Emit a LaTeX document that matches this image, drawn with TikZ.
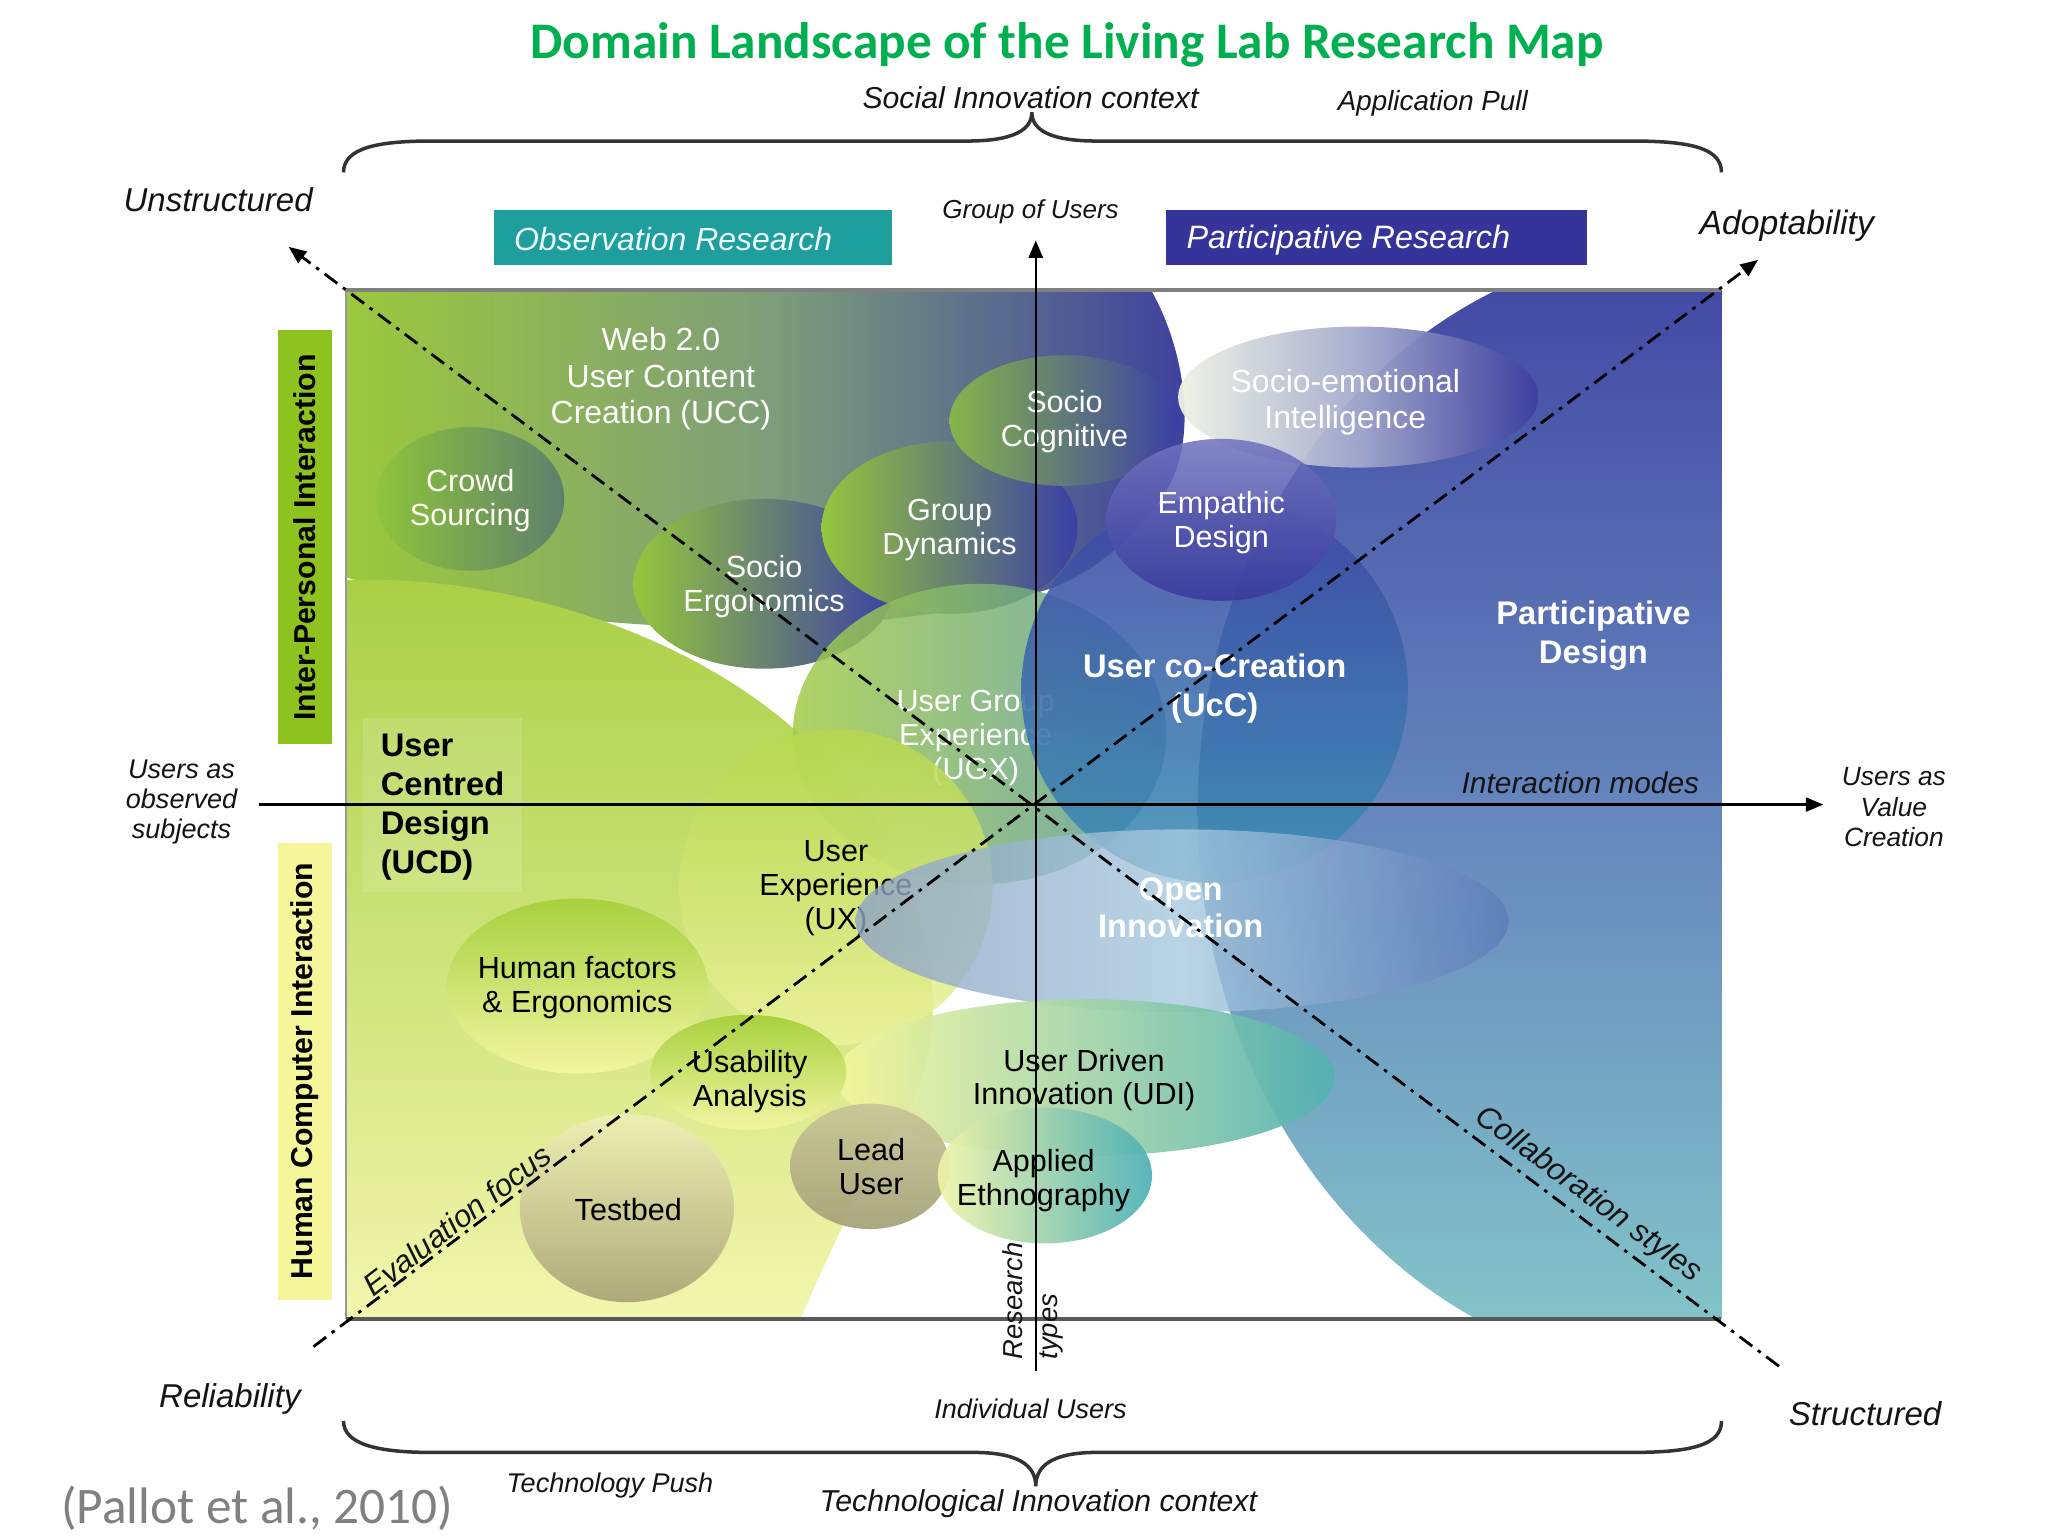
\documentclass[tikz,border=0pt]{standalone}
\usepackage{fontspec}
\setmainfont{Liberation Sans}
\newfontfamily\calib{Carlito}
\usetikzlibrary{arrows.meta}
\definecolor{lime}{HTML}{9CC83C}
\definecolor{dblue}{HTML}{3C3E9F}
\definecolor{uccmid}{HTML}{7E9D7A}
\definecolor{ptop}{HTML}{4045A3}
\definecolor{pmid}{HTML}{6586BD}
\definecolor{pbot}{HTML}{86CACA}
\definecolor{ucdtop}{HTML}{A9CF45}
\definecolor{ucdbot}{HTML}{F3F6AE}
\definecolor{titlegreen}{HTML}{00B050}
\definecolor{obsteal}{HTML}{1E9E9C}
\definecolor{partblue}{HTML}{35349A}
\definecolor{ipgreen}{HTML}{8DC21F}
\definecolor{hcyellow}{HTML}{F5F59A}
\definecolor{selight}{HTML}{EEF2E4}
\definecolor{semid}{HTML}{A4AACD}
\definecolor{crL}{HTML}{8EC43A}
\definecolor{crR}{HTML}{5D806E}
\definecolor{gL}{HTML}{95C63C}
\definecolor{gR}{HTML}{3B3FA6}
\definecolor{scL}{HTML}{86B44A}
\definecolor{ugxL}{HTML}{A3CC48}
\definecolor{ugxR}{HTML}{5A9AA0}
\definecolor{uxT}{HTML}{B6D74E}
\definecolor{uxB}{HTML}{EDF39C}
\definecolor{uccT}{HTML}{3E45A5}
\definecolor{uccB}{HTML}{3A92B4}
\definecolor{empT}{HTML}{7174C0}
\definecolor{empB}{HTML}{383A9C}
\definecolor{oiL}{HTML}{8EA2C6}
\definecolor{oiM}{HTML}{A6C9DE}
\definecolor{oiR}{HTML}{5F7BBA}
\definecolor{hfT}{HTML}{A8D13E}
\definecolor{hfB}{HTML}{F2F5A2}
\definecolor{udiL}{HTML}{F5F79E}
\definecolor{udiR}{HTML}{52B1B2}
\definecolor{tbT}{HTML}{EDEFB2}
\definecolor{tbB}{HTML}{AEAA7A}
\definecolor{luT}{HTML}{C8C698}
\definecolor{luB}{HTML}{A6A379}
\definecolor{aeL}{HTML}{F0F4A8}
\definecolor{aeR}{HTML}{4AAFB5}
\begin{document}
\begin{tikzpicture}[x=0.01306cm,y=-0.01306cm,
  bub/.style={font=\fontsize{8.7}{9.6}\selectfont, align=center, inner sep=0pt},
  wtxt/.style={bub, text=white},
  btxt/.style={bub, text=black},
  bigw/.style={font=\bfseries\fontsize{9.3}{11.1}\selectfont, align=center, text=white, inner sep=0pt},
  lab/.style={font=\itshape\fontsize{8.6}{9.6}\selectfont, inner sep=0pt, text=black!92},
  axisline/.style={line width=0.7pt, black},
  dashdot/.style={line width=0.8pt, dash pattern=on 4.5pt off 2pt on 1pt off 2pt},
  tiphead/.style={-{Triangle[length=5pt,width=4pt]}},
  bracel/.style={line width=1pt, black!80}
]
\useasboundingbox (0,0) rectangle (1568,1176);

\begin{scope}
\clip (265,222) rectangle (1318,1010);
% Participative Design region
\path[top color=ptop, bottom color=pbot, middle color=pmid] (1292,620) ellipse [x radius=375, y radius=432];
% Web 2.0 UCC region
\path[left color=lime, right color=dblue, middle color=uccmid] (265,220) -- (880,220) .. controls (905,262) and (918,330) .. (895,372) .. controls (872,412) and (832,442) .. (800,452) .. controls (720,475) and (600,485) .. (490,478) .. controls (400,472) and (320,458) .. (265,442) -- cycle;
% UCD region
\path[top color=ucdtop, bottom color=ucdbot] (265,444) .. controls (380,440) and (520,480) .. (610,560) .. controls (710,640) and (745,790) .. (684,866) .. controls (655,915) and (630,970) .. (612,1012) -- (265,1012) -- cycle;
\fill[white, fill opacity=0.13] (278,550) rectangle (400,683);
% Socio-emotional
\path[left color=selight, right color=dblue, middle color=semid, fill opacity=0.95] (1040,304) ellipse [x radius=138, y radius=54];
% Crowd sourcing
\path[left color=crL, right color=crR] (360,382) ellipse [x radius=72, y radius=55];
% Socio ergonomics
\path[left color=gL, right color=gR] (585,447) ellipse [x radius=100, y radius=65];
% Group dynamics
\path[left color=gL, right color=gR] (727,404) ellipse [x radius=98, y radius=66];
% Socio cognitive
\path[left color=scL, right color=gR] (815,322) ellipse [x radius=88, y radius=50];
% UGX
\path[left color=ugxL, right color=ugxR, fill opacity=0.85] (750,562) ellipse [x radius=143, y radius=115];
\node[wtxt] (ugx) at (747,565) {User Group\\Experience\\(UGX)};
% UX
\path[top color=uxT, bottom color=uxB, fill opacity=0.85] (640,679) ellipse [x radius=120, y radius=121];
\node[btxt] (ux) at (640,680) {User\\Experience\\(UX)};
% UcC
\path[top color=uccT, bottom color=uccB, fill opacity=0.88] (930,528) circle [radius=148];
% Empathic
\path[top color=empT, bottom color=empB, fill opacity=0.88] (935,398) ellipse [x radius=88, y radius=62];
% Open innovation
\path[left color=oiL, right color=oiR, middle color=oiM, fill opacity=0.8] (905,705) ellipse [x radius=250, y radius=70];
% Human factors
\path[top color=hfT, bottom color=hfB] (442,755) ellipse [x radius=100, y radius=67];
% UDI
\path[left color=udiL, right color=udiR, fill opacity=0.92] (831,825) ellipse [x radius=191, y radius=60];
% Usability
\path[top color=hfT, bottom color=hfB] (573,821) ellipse [x radius=75, y radius=44];
% Testbed
\path[top color=tbT, bottom color=tbB] (480,925) ellipse [x radius=82, y radius=72];
% Lead user
\path[top color=luT, bottom color=luB, fill opacity=0.95] (666,893) ellipse [x radius=61, y radius=48];
% Applied ethnography
\path[left color=aeL, right color=aeR, fill opacity=0.92] (800,900) ellipse [x radius=82, y radius=52];
\end{scope}

% frame
\draw[black!40, line width=0.5pt] (265,1010) -- (265,222);
\draw[black!50, line width=1pt] (265,222) -- (1318,222);
\draw[black!65, line width=1.3pt] (265,1010) -- (1318,1010);

% bubble texts
\node[wtxt, font=\fontsize{9.1}{10.4}\selectfont] (ucc) at (506,290) {Web 2.0\\User Content\\Creation (UCC)};
\node[bub, text=white!94!yellow] (crowd) at (360,383) {Crowd\\Sourcing};
\node[wtxt] (socerg) at (585,449) {Socio\\Ergonomics};
\node[wtxt] (grpdyn) at (727,406) {Group\\Dynamics};
\node[wtxt] (soccog) at (815,323) {Socio\\Cognitive};
\node[wtxt, font=\fontsize{9.1}{10.4}\selectfont] (socemo) at (1030,308) {Socio-emotional\\Intelligence};
\node[wtxt] (empath) at (935,400) {Empathic\\Design};
\node[bigw] (partdes) at (1220,487) {Participative\\Design};
\node[bigw] (ucoc) at (930,527) {User co-Creation\\(UcC)};
\node[bigw, font=\bfseries\fontsize{9.3}{10.8}\selectfont] (openinn) at (904,695) {Open\\Innovation};
\node[font=\bfseries\fontsize{9.3}{11.1}\selectfont, align=left, inner sep=0pt, anchor=west] (ucd) at (291,618) {User\\Centred\\Design\\(UCD)};
\node[btxt] (humf) at (442,756) {Human factors\\\& Ergonomics};
\node[btxt] (usab) at (574,828) {Usability\\Analysis};
\node[btxt] (udi) at (830,827) {User Driven\\Innovation (UDI)};
\node[btxt] (lead) at (667,893) {Lead\\User};
\node[btxt] (ethno) at (799,904) {Applied\\Ethnography};
\node[btxt] (testbed) at (481,926) {Testbed};

% axes
\coordinate (vB) at (793,1050);
\coordinate (vT) at (793,184);
\coordinate (hL) at (198,616);
\coordinate (hR) at (1396,616);
\coordinate (eS) at (240,1031);
\coordinate (eE) at (1346,199);
\coordinate (cS) at (1362,1046);
\coordinate (cE) at (221,189);
\draw[axisline, tiphead] (vB) -- (vT);
\draw[axisline, tiphead] (hL) -- (hR);
\draw[dashdot, tiphead] (eS) -- (eE);
\draw[dashdot, tiphead] (cS) -- (cE);

% braces
\coordinate (tbL) at (263,132);
\coordinate (tbM) at (790,86);
\coordinate (tbR) at (1318,132);
\draw[bracel] (tbL) .. controls (263,113) and (290,108) .. (330,108) -- (740,108) .. controls (775,108) and (790,100) .. (tbM) .. controls (790,100) and (805,108) .. (840,108) -- (1250,108) .. controls (1296,108) and (1318,114) .. (tbR);
\coordinate (bbL) at (263,1088);
\coordinate (bbM) at (793,1138);
\coordinate (bbR) at (1318,1088);
\draw[bracel] (bbL) .. controls (263,1106) and (290,1112) .. (330,1112) -- (745,1112) .. controls (780,1112) and (793,1122) .. (bbM) .. controls (793,1122) and (806,1112) .. (840,1112) -- (1250,1112) .. controls (1296,1112) and (1318,1106) .. (bbR);

% boxes and bands
\fill[obsteal] (378,161) rectangle (683,203);
\node[font=\itshape\fontsize{9.1}{10}\selectfont, text=white!92!cyan, anchor=west, inner sep=0pt] (obs) at (393,183) {Observation Research};
\fill[partblue] (893,161) rectangle (1215,203);
\node[font=\itshape\fontsize{9.2}{10}\selectfont, text=white, anchor=west, inner sep=0pt] (part) at (908,184) {Participative Research};
\node[fill=ipgreen, rotate=90, minimum width=4.14cm, minimum height=0.535cm, inner sep=0pt, font=\bfseries\fontsize{8.6}{9}\selectfont] (ipband) at (233.5,411.5) {Inter-Personal Interaction};
\node[fill=hcyellow, rotate=90, minimum width=4.57cm, minimum height=0.535cm, inner sep=0pt, font=\bfseries\fontsize{8.6}{9}\selectfont] (hcband) at (233.5,820) {Human Computer Interaction};

% labels
\node[font=\calib\bfseries\fontsize{14.6}{16}\selectfont, text=titlegreen] (title) at (817,34) {Domain Landscape of the Living Lab Research Map};
\node[lab] (socctx) at (789,75) {Social Innovation context};
\node[lab, font=\itshape\fontsize{7.9}{9}\selectfont] (apppull) at (1097,79) {Application Pull};
\node[lab, font=\itshape\fontsize{9.4}{10}\selectfont] (unstr) at (167,153) {Unstructured};
\node[lab, font=\itshape\fontsize{9.6}{10}\selectfont] (adopt) at (1368,173) {Adoptability};
\node[lab, font=\itshape\fontsize{7.4}{8}\selectfont] (grpusers) at (789,162) {Group of Users};
\node[lab, font=\itshape\fontsize{7.7}{8.6}\selectfont, align=center] (obssub) at (139,614) {Users as\\observed\\subjects};
\node[lab, font=\itshape\fontsize{7.5}{8.6}\selectfont, align=center] (valcre) at (1450,618) {Users as\\Value\\Creation};
\node[lab, font=\itshape\fontsize{8.5}{9}\selectfont] (intmodes) at (1210,599) {Interaction modes};
\node[lab, font=\itshape\fontsize{9.4}{10}\selectfont] (reliab) at (176,1071) {Reliability};
\node[lab, font=\itshape\fontsize{9.4}{10}\selectfont] (struct) at (1428,1082) {Structured};
\node[lab, font=\itshape\fontsize{7.7}{8.6}\selectfont] (indiv) at (789,1079) {Individual Users};
\node[lab, font=\itshape\fontsize{7.7}{8.6}\selectfont] (techpush) at (467,1137) {Technology Push};
\node[lab] (techctx) at (795,1151) {Technological Innovation context};
\node[lab, font=\itshape\fontsize{8.8}{9.6}\selectfont, rotate=37.5] (evalf) at (350,934) {Evaluation focus};
\node[lab, font=\itshape\fontsize{8.9}{9.6}\selectfont, rotate=-36.5] (collab) at (1216,915) {Collaboration styles};
\node[lab, font=\itshape\fontsize{7.8}{10}\selectfont, rotate=90, align=left] (rtypes) at (791,996) {Research\\types};
\node[font=\calib\fontsize{14.6}{16}\selectfont, text=black!50, inner sep=0pt] (cite) at (197,1155) {(Pallot et al., 2010)};
\end{tikzpicture}
\end{document}
